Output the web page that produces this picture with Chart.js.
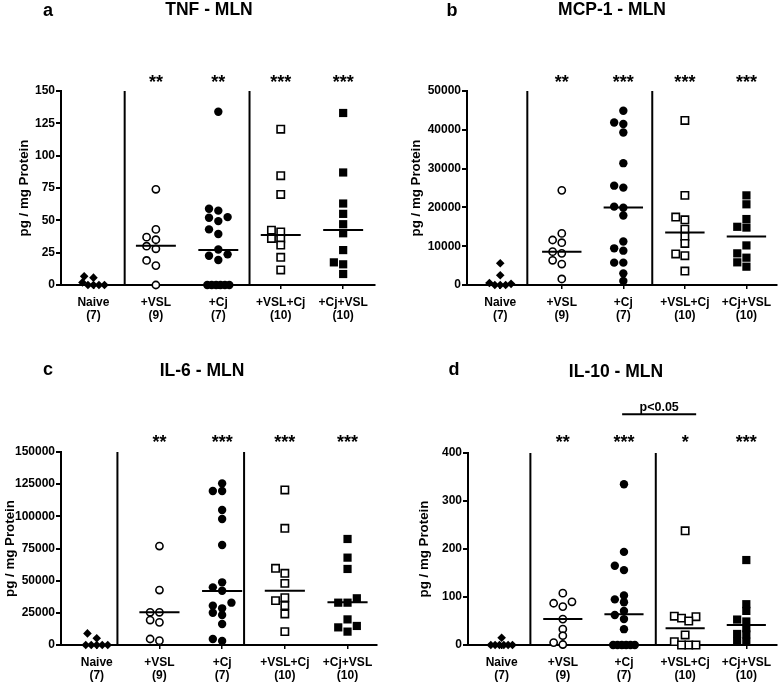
<!DOCTYPE html>
<html><head><meta charset="utf-8">
<script src="https://cdn.jsdelivr.net/npm/chart.js@4.4.1/dist/chart.umd.min.js"></script>
<style>
body{margin:0;background:#fff;width:784px;height:683px;position:relative;overflow:hidden;}
.p{position:absolute;}
canvas{display:block;}
</style></head><body>
<div class="p" style="left:0;top:0"><canvas id="ca" width="392" height="340"></canvas></div>
<div class="p" style="left:392px;top:0"><canvas id="cb" width="392" height="340"></canvas></div>
<div class="p" style="left:0;top:340px"><canvas id="cc" width="392" height="343"></canvas></div>
<div class="p" style="left:392px;top:340px"><canvas id="cd" width="392" height="343"></canvas></div>
<script>
// ---------- DATA ----------
const categories = ['Naive', '+VSL', '+Cj', '+VSL+Cj', '+Cj+VSL'];
const groupCounts = ['(7)', '(9)', '(7)', '(10)', '(10)'];

// a: TNF - MLN (pg / mg protein)
const tnfNaive = [6.7, 0, 2, 0, 0, 0, 5.7];
const tnfVSL = [74, 43, 35, 37, 28, 30, 19, 15, 0];
const tnfCj = [134, 59, 57.5, 52.5, 49.4, 52, 43, 39.4, 27.5, 23.7, 22.6, 19.3, 0, 0, 0, 0, 0, 0];
const tnfVSLCj = [120.5, 84.5, 70, 42.4, 41, 36, 35.7, 30.9, 21.4, 11.6];
const tnfCjVSL = [133, 87, 63, 55, 47, 40, 27, 17.5, 16, 8.5];
const tnfCenterLines = [0, 30.4, 27, 38.7, 42.5];
const tnfStars = ['', '**', '**', '***', '***'];
const tnfTicks = [0, 25, 50, 75, 100, 125, 150];

// b: MCP-1 - MLN
const mcpNaive = [5600, 2500, 0, 300, 500, 0, 0];
const mcpVSL = [24400, 13300, 11600, 10900, 8600, 8160, 6360, 5400, 1550];
const mcpCj = [44900, 41900, 41500, 39300, 31400, 25600, 25100, 20200, 19900, 17900, 11200, 9450, 8850, 5760, 5760, 3000, 1030];
const mcpVSLCj = [42400, 23100, 17500, 16800, 14400, 12500, 10700, 8000, 7560, 3600];
const mcpCjVSL = [23100, 20800, 17000, 15000, 14800, 10200, 8160, 7040, 5840, 4720];
const mcpCenterLines = [0, 8600, 20000, 13500, 12500];
const mcpStars = ['', '**', '***', '***', '***'];
const mcpTicks = [0, 10000, 20000, 30000, 40000, 50000];

// c: IL-6 - MLN
const il6Naive = [9000, 5200, 0, 0, 0, 0, 0];
const il6VSL = [76900, 42700, 25400, 25400, 19400, 17600, 4660, 3370];
const il6Cj = [125600, 119700, 119700, 104900, 97900, 77700, 48700, 44800, 42200, 32900, 30600, 28500, 25100, 23300, 16300, 4660, 3100];
const il6VSLCj = [120500, 90700, 59600, 55700, 47900, 36800, 34500, 30600, 24100, 10400];
const il6CjVSL = [82400, 67900, 59100, 36300, 32900, 32900, 19900, 14800, 13700, 10400];
const il6CenterLines = [0, 25400, 42000, 42200, 33200];
const il6Stars = ['', '**', '***', '***', '***'];
const il6Ticks = [0, 25000, 50000, 75000, 100000, 125000, 150000];

// d: IL-10 - MLN
const il10Naive = [15, 0, 0, 0, 0, 0, 0];
const il10VSL = [108, 90, 87, 80, 54, 33, 19.4, 5, 1];
const il10Cj = [335, 194, 165, 156, 103, 95, 89, 71, 62.5, 54, 33, 0, 0, 0, 0, 0, 0];
const il10VSLCj = [238, 60, 59, 56, 50, 21, 7, 0, 0, 0];
const il10CjVSL = [177, 85, 71, 53, 49, 35, 23, 22, 7, 7];
const il10CenterLines = [0, 54, 64, 35, 41.5];
const il10Stars = ['', '**', '***', '*', '***'];
const il10Ticks = [0, 100, 200, 300, 400];
const il10Comparison = {from: 2, to: 3, label: 'p<0.05'};

// ---------- STYLE / LAYOUT ----------
const FONT = '"Liberation Sans", Arial, Helvetica, sans-serif';
Chart.defaults.font.family = FONT;
Chart.defaults.color = '#000';

const markerStyles = [
  {shape: 'rectRot', r: 4.3, fill: '#000', bw: 0},
  {shape: 'circle',  r: 3.6, fill: '#fff', bw: 1.6},
  {shape: 'circle',  r: 4.2, fill: '#000', bw: 0},
  {shape: 'rect',    r: 5.2, fill: '#fff', bw: 1.6},
  {shape: 'rect',    r: 5.8, fill: '#000', bw: 0}
];

const GROUP_PX = 6.0, STEP_PX = 9.3, SPAN_PX = 22, HALF_LINE = 0.32;

const panels = [
  {id: 'ca', W: 392, H: 340, letter: 'a', title: 'TNF - MLN',
   groups: [tnfNaive, tnfVSL, tnfCj, tnfVSLCj, tnfCjVSL], lines: tnfCenterLines, stars: tnfStars, ticks: tnfTicks,
   L: 61, T: 91, R: 375, B: 285, xmin: -0.52, xmax: 4.51, dividers: [0.5, 2.5],
   letterX: 48, letterY: 16, titleX: 209, titleY: 15, starY: 88, yTitleX: 24},
  {id: 'cb', W: 392, H: 340, letter: 'b', title: 'MCP-1 - MLN',
   groups: [mcpNaive, mcpVSL, mcpCj, mcpVSLCj, mcpCjVSL], lines: mcpCenterLines, stars: mcpStars, ticks: mcpTicks,
   L: 75, T: 91, R: 390, B: 285, xmin: -0.54, xmax: 4.5, dividers: [0.44, 2.47],
   letterX: 60, letterY: 16, titleX: 220, titleY: 15, starY: 88, yTitleX: 24},
  {id: 'cc', W: 392, H: 343, letter: 'c', title: 'IL-6 - MLN',
   groups: [il6Naive, il6VSL, il6Cj, il6VSLCj, il6CjVSL], lines: il6CenterLines, stars: il6Stars, ticks: il6Ticks,
   L: 61, T: 112, R: 377, B: 305, xmin: -0.57, xmax: 4.47, dividers: [0.33, 2.35],
   letterX: 48, letterY: 35, titleX: 202, titleY: 36, starY: 108, yTitleX: 10},
  {id: 'cd', W: 392, H: 343, letter: 'd', title: 'IL-10 - MLN',
   groups: [il10Naive, il10VSL, il10Cj, il10VSLCj, il10CjVSL], lines: il10CenterLines, stars: il10Stars, ticks: il10Ticks,
   L: 76, T: 113, R: 390, B: 305, xmin: -0.55, xmax: 4.505, dividers: [0.47, 2.52],
   letterX: 62, letterY: 35, titleX: 224, titleY: 36.5, starY: 108, yTitleX: 32,
   comparison: il10Comparison, compY: 74.3, compTextY: 70.7, compTo: 3.18}
];

// beeswarm-style horizontal spreading of points that share a value band
function swarmOffsets(vals, pxPerY) {
  const order = vals.map((v, i) => i).sort((a, b) => vals[a] - vals[b]);
  const groups = [];
  let g = null;
  for (const i of order) {
    if (g && (vals[i] - g.start) * pxPerY < GROUP_PX) g.items.push(i);
    else { g = {start: vals[i], items: [i]}; groups.push(g); }
  }
  const out = new Array(vals.length).fill(0);
  for (const gr of groups) {
    const n = gr.items.length;
    if (n <= 3) {
      const pat = [0, -1, 1];
      gr.items.forEach((i, k) => { out[i] = pat[k] * STEP_PX; });
    } else {
      const step = Math.min(STEP_PX, SPAN_PX / (n - 1));
      const slots = [];
      for (let k = 0; k < n; k++) slots.push((k - (n - 1) / 2) * step);
      slots.sort((a, b) => Math.abs(a) - Math.abs(b) || b - a);
      gr.items.forEach((i, k) => { out[i] = slots[k]; });
    }
  }
  return out;
}

function makeAnnotPlugin(p) {
  return {
    id: 'annot' + p.id,
    afterDraw(chart) {
      const ctx = chart.ctx;
      const xs = chart.scales.x;
      ctx.save();
      ctx.fillStyle = '#000';
      ctx.textAlign = 'center';
      ctx.textBaseline = 'alphabetic';
      ctx.font = 'bold 18px ' + FONT;
      ctx.fillText(p.letter, p.letterX, p.letterY);
      ctx.font = 'bold 17.5px ' + FONT;
      ctx.fillText(p.title, p.titleX, p.titleY);
      ctx.font = 'bold 18px ' + FONT;
      p.stars.forEach((s, i) => { if (s) ctx.fillText(s, xs.getPixelForValue(i), p.starY); });
      if (p.comparison) {
        const x1 = xs.getPixelForValue(p.comparison.from - 0.03);
        const x2 = xs.getPixelForValue(p.compTo);
        ctx.strokeStyle = '#000';
        ctx.lineWidth = 2;
        ctx.beginPath();
        ctx.moveTo(x1, p.compY);
        ctx.lineTo(x2, p.compY);
        ctx.stroke();
        ctx.font = 'bold 12.5px ' + FONT;
        ctx.fillText(p.comparison.label, (x1 + x2) / 2, p.compTextY);
      }
      ctx.restore();
    }
  };
}

function buildPanel(p) {
  const ymax = p.ticks[p.ticks.length - 1];
  const pxPerY = (p.B - p.T) / ymax;
  const pxPerX = (p.R - p.L) / (p.xmax - p.xmin);
  const xAxisH = p.H - p.B;
  const datasets = [];
  p.groups.forEach((vals, gi) => {
    const offs = swarmOffsets(vals, pxPerY);
    const st = markerStyles[gi];
    datasets.push({
      type: 'scatter',
      label: categories[gi],
      data: vals.map((v, k) => ({x: gi + offs[k] / pxPerX, y: v})),
      pointStyle: st.shape, pointRadius: st.r, pointHoverRadius: st.r,
      pointBackgroundColor: st.fill, pointBorderColor: '#000', pointBorderWidth: st.bw,
      showLine: false, clip: false, order: 2
    });
  });
  const centerData = [];
  p.lines.forEach((m, gi) => {
    centerData.push({x: gi - HALF_LINE, y: m}, {x: gi + HALF_LINE, y: m}, {x: gi + 0.5, y: null});
  });
  datasets.push({type: 'line', label: 'center', data: centerData, borderColor: '#000', borderWidth: 2,
    pointRadius: 0, spanGaps: false, clip: false, order: 1, fill: false});
  const divData = [];
  p.dividers.forEach(x => { divData.push({x: x, y: 0}, {x: x, y: ymax}, {x: x, y: null}); });
  datasets.push({type: 'line', label: 'dividers', data: divData, borderColor: '#000', borderWidth: 2,
    pointRadius: 0, spanGaps: false, clip: false, order: 3, fill: false});

  new Chart(document.getElementById(p.id), {
    type: 'scatter',
    data: {datasets},
    options: {
      responsive: false, animation: false, events: [],
      layout: {padding: {left: 0, top: p.T, right: p.W - p.R, bottom: 0}},
      plugins: {legend: {display: false}, tooltip: {enabled: false}, title: {display: false}},
      scales: {
        x: {
          type: 'linear', min: p.xmin, max: p.xmax,
          afterBuildTicks: s => { s.ticks = categories.map((c, i) => ({value: i})); },
          afterFit: s => { s.height = xAxisH; },
          grid: {display: true, drawOnChartArea: false, drawTicks: true, tickLength: 4, color: '#000', lineWidth: 1.5},
          border: {display: true, color: '#000', width: 2},
          ticks: {
            autoSkip: false, maxRotation: 0, padding: 7, color: '#000',
            font: {size: 12, weight: 'bold', lineHeight: 1.1},
            callback: v => [categories[v], groupCounts[v]]
          }
        },
        y: {
          type: 'linear', min: 0, max: ymax,
          afterBuildTicks: s => { s.ticks = p.ticks.map(v => ({value: v})); },
          afterFit: s => { s.width = p.L; },
          grid: {display: true, drawOnChartArea: false, drawTicks: true, tickLength: 5, color: '#000', lineWidth: 2},
          border: {display: true, color: '#000', width: 2},
          ticks: {padding: 1, color: '#000', font: {size: 12, weight: 'bold'}, callback: v => String(v)},
          title: {display: true, text: 'pg / mg Protein', color: '#000',
            font: {size: 13.3, weight: 'bold', lineHeight: 1.2},
            padding: {top: Math.max(0, p.yTitleX - 8), bottom: 0}}
        }
      }
    },
    plugins: [makeAnnotPlugin(p)]
  });
}

panels.forEach(buildPanel);
</script>
</body></html>
